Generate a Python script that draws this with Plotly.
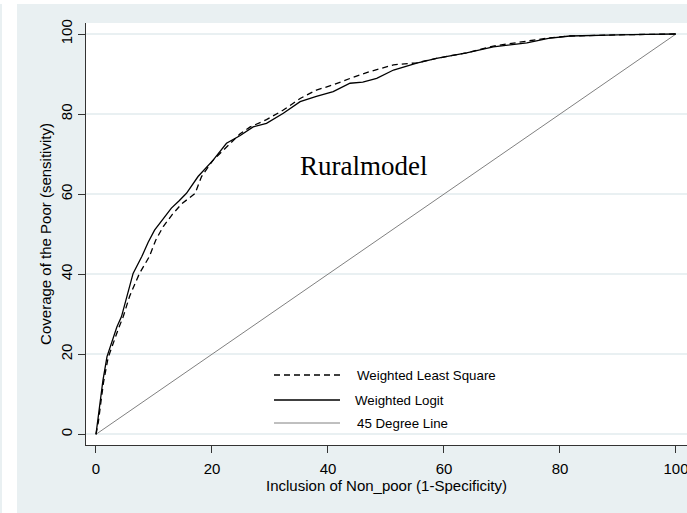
import plotly.graph_objects as go

# Weighted Logit (solid)
logit_x = [0, 0.3, 0.7, 1.2, 1.9, 2.8, 3.6, 4.4, 5.4, 6.4, 7.9, 9.0, 10.1, 11.5, 13.0, 14.3,
           15.6, 17.6, 18.8, 20.2, 22.5, 24.8, 27.1, 29.4, 32.3, 35.2, 38.0, 40.9, 43.8, 46.0,
           48.4, 51.3, 55.3, 58.7, 63.9, 68.5, 74.3, 78.0, 81.7, 85.7, 90, 95, 100]
logit_y = [0, 3.5, 8, 13.5, 19.4, 23.5, 26.8, 29.4, 35, 40.2, 44.4, 48.0, 51.0, 53.8, 56.5, 58.3,
           60.2, 64.4, 66.3, 68.5, 72.7, 74.6, 76.8, 77.7, 80.2, 83.1, 84.4, 85.6, 87.7, 88.0,
           88.9, 91.0, 92.7, 93.9, 95.3, 96.8, 97.8, 98.9, 99.5, 99.7, 99.8, 99.9, 100]

# Weighted Least Square (dashed)
wls_x = [0, 0.4, 0.8, 1.3, 2.1, 3.0, 3.9, 4.7, 5.8, 7.5, 9.2, 10.3, 11.6, 13.2, 14.8, 17.1,
         18.2, 20.2, 23.1, 24.8, 26.6, 29.4, 32.3, 35.2, 38.0, 40.9, 43.8, 47.2, 51.3, 55.3,
         58.7, 63.9, 68.5, 74.3, 78.0, 81.7, 85.7, 90, 95, 100]
wls_y = [0, 3, 7.5, 13, 19.2, 23, 26.5, 29.4, 34.5, 40.2, 44.4, 48.5, 51.9, 55.0, 57.6, 60.2,
         64.4, 68.5, 72.7, 75.0, 76.8, 78.6, 81.0, 83.9, 86.0, 87.3, 88.9, 90.6, 92.3, 92.8,
         93.9, 95.3, 97.0, 98.3, 99.0, 99.5, 99.7, 99.8, 99.9, 100]

# 45 degree line
diag_x = [0, 100]
diag_y = [0, 100]

tick_vals = [0, 20, 40, 60, 80, 100]
tick_text = ["0", "20", "40", "60", "80", "100"]

legend_names = ["Weighted Least Square", "Weighted Logit", "45 Degree Line"]

BG = "#E9F0F2"
FONT = "Liberation Sans, Arial, sans-serif"

fig = go.Figure()
fig.add_trace(go.Scatter(x=diag_x, y=diag_y, mode="lines", name=legend_names[2],
                         line=dict(color="#808080", width=1)))
fig.add_trace(go.Scatter(x=wls_x, y=wls_y, mode="lines", name=legend_names[0],
                         line=dict(color="black", width=1.3, dash="6px,4px")))
fig.add_trace(go.Scatter(x=logit_x, y=logit_y, mode="lines", name=legend_names[1],
                         line=dict(color="black", width=1.3)))

W, H = 687, 513
ml, mr, mt, mb = 86, 0, 23, 68
pw, ph = W - ml - mr, H - mt - mb

def px2x(px):
    return (px - ml) / pw

def py2y(py):
    return (H - mb - py) / ph

shapes = [
    # white strips of outer frame
    dict(type="rect", xref="paper", yref="paper", x0=px2x(2), x1=px2x(17), y0=py2y(H + 5), y1=py2y(-5),
         fillcolor="white", line_width=0, layer="below"),
    dict(type="rect", xref="paper", yref="paper", x0=px2x(-5), x1=px2x(W + 5), y0=py2y(4), y1=py2y(-5),
         fillcolor="white", line_width=0, layer="below"),
]

# manual legend
leg_rows = [(375, dict(color="black", width=1.3, dash="6px,4px"), 355),
            (400, dict(color="black", width=1.3), 353),
            (423, dict(color="#808080", width=1), 355)]
annotations = []
for (py, ln, tx), name in zip(leg_rows, legend_names):
    shapes.append(dict(type="line", xref="paper", yref="paper", x0=px2x(274), x1=px2x(340),
                       y0=py2y(py), y1=py2y(py), line=ln))
    annotations.append(dict(xref="paper", yref="paper", x=px2x(tx), y=py2y(py), text=name,
                            showarrow=False, xanchor="left", yanchor="middle",
                            font=dict(family=FONT, size=13.3, color="black")))

annotations.append(dict(x=46.2, y=67, xref="x", yref="y", text="Ruralmodel", showarrow=False,
                        font=dict(family="Liberation Serif, Times New Roman, serif", size=27, color="black")))

fig.update_layout(
    width=W, height=H,
    margin=dict(l=ml, r=mr, t=mt, b=mb),
    paper_bgcolor=BG, plot_bgcolor="white",
    showlegend=False,
    shapes=shapes, annotations=annotations,
    font=dict(family=FONT, color="black"),
    xaxis=dict(range=[-1.72, 101.9], tickvals=tick_vals, ticktext=tick_text,
               ticks="outside", ticklen=7, tickcolor="#333", tickwidth=1,
               ticklabeloverflow="allow", ticklabelstandoff=3,
               showline=True, linecolor="#333", linewidth=1, showgrid=False, zeroline=False,
               tickfont=dict(size=15, family=FONT, color="black"),
               title=dict(text="Inclusion of Non_poor (1-Specificity)", standoff=0,
                          font=dict(size=15, family=FONT, color="black"))),
    yaxis=dict(range=[-2.67, 102.75], tickvals=tick_vals, ticktext=tick_text,
               ticks="outside", ticklen=7, tickcolor="#333", tickwidth=1, tickangle=-90,
               showline=True, linecolor="#333", linewidth=1,
               showgrid=True, gridcolor=BG, gridwidth=1.5, zeroline=False,
               tickfont=dict(size=15, family=FONT, color="black"),
               title=dict(text="Coverage of the Poor (sensitivity)", standoff=2,
                          font=dict(size=15, family=FONT, color="black"))),
)

fig.write_html("out.html")
